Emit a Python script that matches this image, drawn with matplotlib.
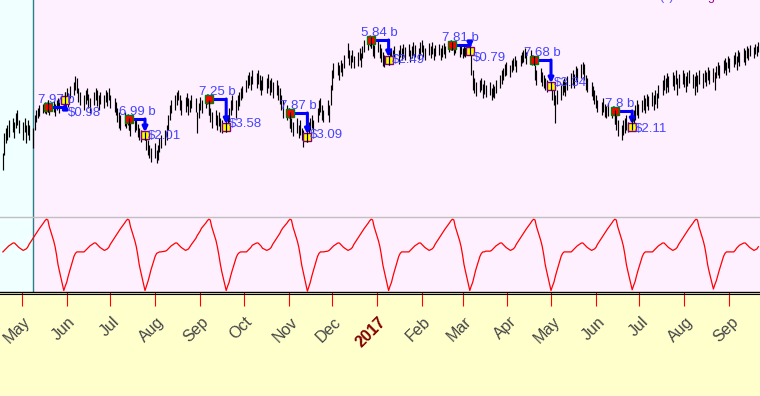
import pandas as pd
import matplotlib
matplotlib.use('Agg')
import matplotlib.pyplot as plt
import matplotlib.transforms as mtransforms
from matplotlib.lines import Line2D

plt.rcParams['font.family'] = ['Liberation Sans', 'DejaVu Sans']

# daily bars (high / low), one per business day from 2016-04-18
price_high = [
    67, 87, 92, 95, 100, 102, 98, 107, 110, 100,
    98, 102, 95, 100, 95, 92, 105, 110, 112, 115,
    116, 118, 116, 120, 117, 119, 116, 120, 122, 120,
    123, 128, 132, 127, 134, 138, 144, 142, 132, 128,
    125, 130, 132, 126, 122, 128, 132, 130, 125, 128,
    125, 130, 128, 132, 125, 122, 118, 112, 108, 105,
    108, 104, 106, 102, 98, 100, 102, 96, 92, 90,
    88, 85, 80, 75, 72, 77, 70, 75, 82, 85,
    90, 95, 105, 115, 120, 125, 128, 130, 125, 120,
    123, 127, 122, 120, 125, 122, 108, 117, 123, 120,
    125, 126, 120, 112, 108, 110, 105, 108, 102, 100,
    98, 105, 112, 120, 125, 120, 125, 128, 132, 134,
    140, 145, 148, 144, 150, 147, 150, 145, 140, 144,
    142, 146, 140, 142, 138, 140, 135, 132, 125, 120,
    115, 112, 108, 102, 98, 102, 95, 100, 92, 90,
    88, 98, 102, 105, 100, 112, 120, 122, 115, 110,
    120, 115, 135, 150, 157, 158, 155, 160, 157, 165,
    177, 170, 165, 170, 164, 168, 172, 167, 174, 180,
    182, 184, 183, 178, 175, 180, 176, 172, 168, 165,
    164, 168, 172, 170, 174, 170, 175, 172, 176, 173,
    176, 170, 174, 178, 175, 172, 178, 180, 175, 172,
    177, 174, 178, 172, 175, 176, 172, 175, 177, 174,
    178, 180, 178, 176, 177, 174, 176, 172, 175, 173,
    173, 165, 150, 142, 138, 140, 142, 136, 140, 135,
    138, 132, 136, 134, 140, 145, 150, 152, 156, 158,
    155, 160, 162, 164, 160, 165, 168, 170, 172, 168,
    170, 165, 164, 155, 150, 152, 148, 145, 142, 140,
    138, 135, 132, 125, 130, 135, 140, 142, 138, 144,
    147, 150, 146, 154, 152, 156, 158, 156, 145, 142,
    138, 134, 130, 125, 120, 118, 122, 116, 114, 117,
    112, 114, 110, 105, 100, 95, 100, 102, 105, 98,
    102, 110, 115, 120, 116, 120, 125, 122, 126, 124,
    128, 125, 130, 127, 135, 140, 145, 142, 147, 144,
    148, 145, 150, 142, 146, 150, 147, 144, 148, 150,
    146, 144, 148, 145, 150, 147, 150, 148, 153, 150,
    152, 148, 154, 158, 155, 160, 162, 158, 164, 162,
    165, 168, 164, 170, 168, 172, 170, 174, 172, 175,
    173, 176, 174, 178,
]
price_low = [
    50, 65, 77, 80, 83, 88, 82, 92, 95, 87,
    80, 88, 77, 85, 80, 72, 90, 98, 102, 104,
    107, 107, 106, 108, 105, 108, 104, 110, 112, 107,
    114, 116, 120, 113, 122, 125, 130, 127, 118, 115,
    110, 116, 120, 112, 107, 115, 120, 114, 110, 116,
    112, 118, 114, 120, 112, 108, 105, 98, 92, 90,
    94, 92, 95, 90, 84, 88, 90, 83, 80, 78,
    80, 70, 65, 62, 58, 62, 57, 60, 68, 72,
    75, 80, 90, 100, 107, 110, 115, 120, 110, 105,
    108, 114, 105, 108, 112, 108, 87, 102, 110, 107,
    112, 116, 105, 98, 92, 95, 90, 94, 88, 87,
    88, 92, 98, 105, 110, 102, 110, 114, 120, 122,
    128, 132, 135, 130, 136, 132, 136, 130, 125, 130,
    127, 132, 125, 128, 122, 125, 120, 116, 110, 102,
    100, 102, 92, 88, 84, 87, 82, 85, 80, 73,
    78, 85, 90, 92, 88, 98, 105, 108, 100, 98,
    105, 98, 115, 130, 142, 145, 140, 148, 144, 152,
    162, 155, 152, 158, 152, 154, 160, 153, 162, 168,
    170, 174, 172, 164, 162, 168, 162, 158, 154, 153,
    155, 157, 160, 158, 163, 156, 163, 160, 164, 160,
    164, 158, 162, 165, 163, 160, 165, 168, 163, 160,
    165, 162, 166, 160, 164, 165, 160, 163, 166, 162,
    168, 170, 170, 165, 167, 163, 166, 162, 164, 163,
    165, 145, 130, 127, 124, 128, 130, 122, 126, 123,
    125, 120, 123, 122, 127, 132, 136, 140, 144, 145,
    143, 148, 150, 154, 148, 154, 157, 158, 162, 156,
    158, 155, 155, 140, 135, 138, 134, 132, 130, 128,
    130, 120, 115, 97, 116, 120, 125, 128, 124, 130,
    132, 135, 132, 140, 138, 142, 146, 140, 130, 128,
    124, 120, 116, 112, 108, 105, 108, 103, 102, 104,
    102, 105, 96, 90, 84, 80, 85, 87, 90, 88,
    90, 95, 100, 105, 102, 108, 110, 107, 114, 110,
    114, 110, 116, 112, 122, 125, 130, 127, 133, 128,
    134, 130, 136, 125, 132, 136, 133, 128, 134, 137,
    132, 125, 134, 128, 136, 132, 138, 134, 140, 136,
    138, 130, 142, 145, 142, 147, 150, 145, 152, 148,
    153, 156, 150, 158, 154, 158, 155, 162, 160, 164,
    162, 166, 164, 168,
]

# seasonal oscillator (0-100), same business days
osc = [
    53, 55, 57, 59, 61, 65, 65, 63, 61, 59, 55, 56, 57, 59, 63, 72, 75, 78, 81, 84,
    92, 95, 97, 96, 87, 68, 60, 49, 36, 27,
    1, 7, 12, 20, 27, 47, 51, 53, 53, 53, 53, 55, 57, 59, 61, 65, 65, 63, 61, 59,
    55, 56, 57, 59, 63, 72, 75, 78, 81, 84, 92, 95, 97, 96, 87, 68, 60, 49, 36, 27,
    1, 7, 13, 20, 28, 47, 51, 52, 53, 53, 54, 55, 57, 59, 61, 65, 65, 63, 61, 59,
    55, 56, 57, 60, 63, 71, 75, 78, 81, 85, 92, 95, 97, 96, 87, 68, 59, 48, 36, 26,
    1, 7, 12, 20, 27, 46, 50, 52, 53, 53, 53, 55, 57, 59, 62, 65, 65, 63, 61, 58,
    55, 56, 57, 59, 63, 72, 75, 78, 82, 85, 92, 95, 97, 96, 87, 68, 60, 49, 36, 27,
    0, 6, 12, 20, 27, 47, 51, 53, 53, 53, 54, 55, 57, 59, 61, 65, 65, 63, 61, 59,
    55, 56, 57, 59, 63, 72, 75, 78, 81, 84, 92, 95, 97, 96, 87, 68, 60, 49, 36, 27,
    1, 7, 12, 20, 27, 47, 51, 53, 53, 53, 53, 55, 57, 59, 61, 65, 65, 63, 61, 59,
    55, 56, 57, 59, 63, 72, 75, 78, 81, 84, 92, 95, 97, 96, 87, 68, 60, 49, 36, 27,
    1, 7, 12, 20, 28, 47, 51, 53, 53, 54, 54, 55, 57, 59, 61, 65, 65, 63, 61, 59,
    55, 56, 57, 59, 63, 72, 75, 78, 81, 84, 92, 95, 97, 96, 87, 68, 60, 49, 36, 27,
    1, 7, 12, 20, 27, 47, 51, 53, 53, 53, 53, 55, 57, 59, 61, 65, 65, 63, 61, 59,
    55, 56, 57, 59, 63, 72, 75, 78, 81, 84, 92, 95, 97, 96, 87, 68, 60, 49, 36, 27,
    2, 8, 13, 21, 28, 47, 51, 53, 53, 53, 53, 55, 57, 59, 61, 65, 65, 63, 61, 59,
    55, 56, 57, 59, 63, 72, 75, 78, 81, 84, 92, 95, 97, 96, 87, 68, 60, 49, 36, 27,
    3, 9, 14, 21, 28, 47, 51, 53, 53, 53, 53, 55, 58, 60, 62, 65, 65, 63, 61, 59,
    55, 56, 57, 60,
]

month_labels = ['May', 'Jun', 'Jul', 'Aug', 'Sep', 'Oct', 'Nov', 'Dec', '2017',
                'Feb', 'Mar', 'Apr', 'May', 'Jun', 'Jul', 'Aug', 'Sep']

# seasonal trades
trade_entry = ['2016-05-19', '2016-07-14', '2016-09-07', '2016-11-02',
               '2016-12-28', '2017-02-22', '2017-04-19', '2017-06-14']
trade_exit = ['2016-05-31', '2016-07-25', '2016-09-19', '2016-11-14',
              '2017-01-09', '2017-03-06', '2017-05-01', '2017-06-26']
entry_price = [113, 101, 121, 107, 180, 175, 160, 109]
exit_price = [120, 85, 93, 83, 160, 169, 134, 93]
bars_text = ['7.97 b', '6.99 b', '7.25 b', '7.87 b', '5.84 b', '7.81 b', '7.68 b', '7.8 b']
gain_text = ['$0.98', '$2.01', '$3.58', '$3.09', '$2.49', '$0.79', '$3.34', '$2.11']
gain_dy = [13, 1, -3, -2, 0, 7, -3, 2]   # label nudge in px

days = pd.bdate_range('2016-04-18', periods=len(price_high))
months = pd.date_range('2016-05-01', '2017-09-01', freq='MS')
start_line = pd.Timestamp('2016-05-09')
x0 = pd.Timestamp('2016-04-16')
x1 = x0 + pd.Timedelta(days=524.14)

pink = '#fff0ff'
cyan = '#f0ffff'
teal = '#2a7f86'
blue = '#0000ff'
txt_blue = '#4444ff'

fig = plt.figure(figsize=(7.6, 3.96), dpi=100, facecolor='#ffffcc')
ax = fig.add_axes([0, 179 / 396, 1, 217 / 396])
ax2 = fig.add_axes([0, 104 / 396, 1, 75 / 396], sharex=ax)

for a in (ax, ax2):
    a.set_facecolor(pink)
    a.axvspan(x0, start_line, color=cyan, lw=0, zorder=0)
    a.axvline(start_line, color=teal, lw=1, zorder=1)
    a.set_yticks([])

ax.set_xlim(x0, x1)
ax.set_ylim(3, 220)
for s in ax.spines.values():
    s.set_visible(False)
ax.tick_params(axis='x', bottom=False, labelbottom=False)

ax.vlines(days, price_low, price_high, color='black', lw=0.85, zorder=2)

for i in range(len(trade_entry)):
    d0 = pd.Timestamp(trade_entry[i])
    d1 = pd.Timestamp(trade_exit[i])
    ax.plot([d0, d1], [entry_price[i], entry_price[i]], color=blue, lw=2.2,
            solid_capstyle='butt', zorder=4)
    ax.annotate('', xy=(d1, exit_price[i]), xytext=(d1, entry_price[i]),
                arrowprops=dict(arrowstyle='-|>', color=blue, lw=2.2,
                                mutation_scale=7, shrinkA=0, shrinkB=2),
                zorder=4)
    ax.plot(d0, entry_price[i], marker='s', ms=6, mfc='red', mec='green', mew=1, zorder=5)
    ax.plot(d1, exit_price[i], marker='s', ms=5.5, mfc='yellow', mec='#800080', mew=1, zorder=5)
    for d in (d0, d1):
        k = days.get_loc(d)
        ax.vlines(d, price_low[k], price_high[k], color='black', lw=0.85, zorder=6)
    ax.annotate(bars_text[i], (d0, entry_price[i]), xytext=(-10, 4),
                textcoords='offset pixels', ha='left', va='baseline',
                color=txt_blue, fontsize=9.5, zorder=7)
    ax.annotate(gain_text[i], (d1, exit_price[i]), xytext=(3, -gain_dy[i]),
                textcoords='offset pixels', ha='left', va='center',
                color=txt_blue, fontsize=9.5, zorder=7)

# oscillator panel
ax2.plot(days, osc, color='red', lw=0.9, zorder=3)
ax2.set_ylim(-1, 100)
ax2.spines['left'].set_visible(False)
ax2.spines['right'].set_visible(False)
ax2.spines['top'].set_color('#c0c0c0')
ax2.spines['top'].set_linewidth(1)
ax2.spines['bottom'].set_color('black')
ax2.spines['bottom'].set_linewidth(1)
ax2.set_xticks(months)
ax2.set_xticklabels(month_labels)
ax2.tick_params(axis='x', direction='out', length=10.4, width=0.8, color='red',
                pad=9.4, labelsize=11.5, labelcolor='#454545')
shift = mtransforms.ScaledTranslation(6.5 / 100, 0, fig.dpi_scale_trans)
for lab in ax2.get_xticklabels():
    lab.set_rotation(45)
    lab.set_ha('right')
    lab.set_va('center')
    lab.set_rotation_mode('anchor')
    lab.set_transform(lab.get_transform() + shift)
    if lab.get_text() == '2017':
        lab.set_color('#800000')
        lab.set_fontweight('bold')

fig.add_artist(Line2D([0, 1], [1 - 294.3 / 396] * 2, transform=fig.transFigure,
                      color='black', lw=0.8))

# header text, cut at the top edge as in the source chart
fig.text(659 / 760, 1.0, '(v)', color='#5050ff', fontsize=9, va='baseline')
fig.text(708 / 760, 1.0, 'g', color='#a000a0', fontsize=9, va='baseline')

fig.savefig('out.png', dpi=100, facecolor=fig.get_facecolor())
